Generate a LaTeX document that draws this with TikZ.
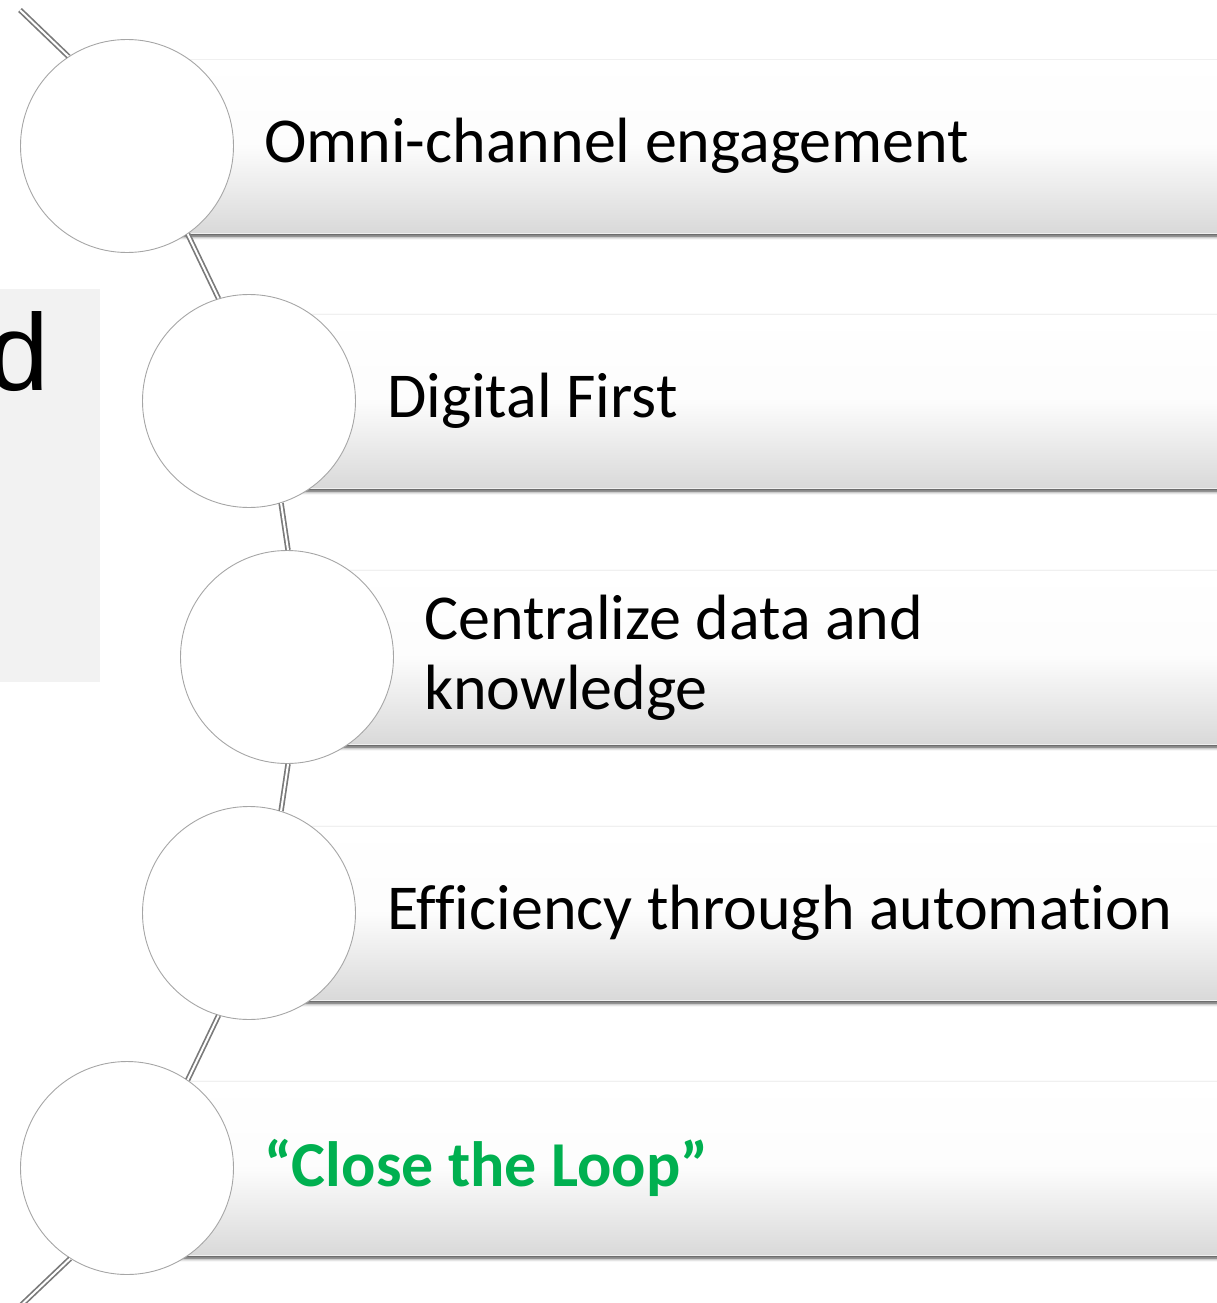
\documentclass[tikz,border=0pt]{standalone}
\usepackage{fontspec}
\setmainfont[Ligatures=CommonOff]{Carlito}
\newfontfamily\arialfont{Liberation Sans}
\usepackage{xcolor}
\definecolor{colRail}{HTML}{7A7A7A}
\definecolor{colRing}{HTML}{A6A6A6}
\definecolor{colBarLow}{HTML}{D9D9D9}
\definecolor{colPanel}{HTML}{F2F2F2}
\definecolor{colGreen}{HTML}{00B050}
\usepackage{tikz}
\usetikzlibrary{positioning, shadows.blur}
\tikzset{
    ring/.style={
        circle, draw=colRing, line width=0.9pt, fill=white,
        minimum size=213pt, inner sep=0pt
    },
    bar/.style={
        rectangle, draw=black!6, line width=0.6pt,
        top color=white, bottom color=colBarLow, middle color=black!1,
        minimum height=174pt, anchor=west, inner sep=0pt,
        blur shadow={shadow xshift=0pt, shadow yshift=-3pt,
                     shadow blur radius=3.5pt, shadow opacity=75}
    },
    itemtext/.style={
        anchor=west, inner sep=0pt, align=left,
        font=\fontsize{64}{70}\selectfont
    },
    rail/.style={draw=colRail, double=white, double distance=2pt, line width=1.7pt},
    % straight link leaving each circle on the tangent of the big arc
    link/.style={bend left=#1, looseness=0},
}

\begin{document}
\begin{tikzpicture}[x=1pt, y=-1pt]
    \useasboundingbox (0,0) rectangle (1217,1303);

    % side panel, cut off at the left
    \fill[colPanel] (-300,289) rectangle (100,682);
    \node[font=\arialfont\fontsize{109}{120}\selectfont, anchor=base west, inner sep=0pt]
          (side) at (-11.5,390) {d};

    % bars with their circles
    \foreach \x/\y/\n in {127/146/1, 249/401/2, 287/657/3, 249/913/4, 127/1168/5} {
        \node[bar, minimum width={1240-\x}] (bar\n) at (\x,\y) {};
        \node[ring] (c\n) at (\x,\y) {};
    }

    % the spine through the circles
    \coordinate (railtop) at (20,10);
    \coordinate (railend) at (14,1312);
    \draw[rail] (railtop) to[link=5] (c1);
    \draw[rail] (c1) to[link=9] (c2);
    \draw[rail] (c2) to[link=9] (c3);
    \draw[rail] (c3) to[link=9] (c4);
    \draw[rail] (c4) to[link=9] (c5);
    \draw[rail] (c5) to[link=6] (railend);

    \node[itemtext, right=30pt of c1] (t1) {Omni-channel engagement};
    \node[itemtext, right=31pt of c2] (t2) {Digital First};
    \node[itemtext, right=30pt of c3, yshift=-1pt] (t3) {Centralize data and\\knowledge};
    \node[itemtext, right=31pt of c4] (t4) {Efficiency through automation};
    \node[itemtext, right=30pt of c5, font=\fontsize{64}{70}\selectfont\bfseries,
          text=colGreen] (t5) {“Close the Loop”};
\end{tikzpicture}
\end{document}
